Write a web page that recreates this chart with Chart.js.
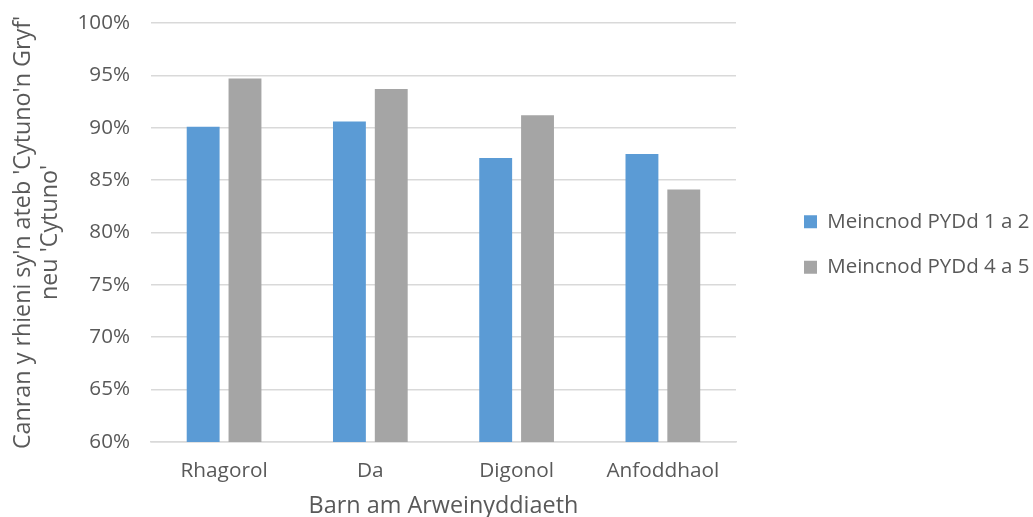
<!DOCTYPE html>
<html>
<head>
<meta charset="utf-8">
<title>Barn am Arweinyddiaeth</title>
<script src="https://cdn.jsdelivr.net/npm/chart.js@4.4.0/dist/chart.umd.min.js"></script>
<style>
  html, body { margin: 0; padding: 0; background: #fff; }
  #wrap { width: 1033px; height: 517px; }
</style>
</head>
<body>
<div id="wrap"><canvas id="myChart" width="1033" height="517"></canvas></div>
<script>
const categories = ['Rhagorol', 'Da', 'Digonol', 'Anfoddhaol'];
const seriesNames = ['Meincnod PYDd 1 a 2', 'Meincnod PYDd 4 a 5'];
const band12 = [90.1, 90.6, 87.1, 87.5];
const band45 = [94.7, 93.7, 91.2, 84.1];
const yTicks = [60, 65, 70, 75, 80, 85, 90, 95, 100];

const font = 'Open Sans';
const grey = '#595959';

// nudge the legend away from the plot and up a bit, like the original
// (right edge goes to the canvas edge so the legend clip doesn't cut text)
const legendShift = {
  id: 'legendShift',
  afterLayout(chart) {
    const lg = chart.legend;
    lg.left += 43;
    lg.right = chart.width;
    lg.top -= 27;
    lg.bottom -= 27;
  }
};

let ctx = document.getElementById('myChart').getContext('2d');
let myChart = new Chart(ctx, {
  type: 'bar',
  data: {
    labels: categories,
    datasets: [{
      label: seriesNames[0],
      data: band12,
      backgroundColor: '#5b9bd5'
    }, {
      label: seriesNames[1],
      data: band45,
      backgroundColor: '#a5a5a5'
    }]
  },
  options: {
    responsive: false,
    animation: false,
    categoryPercentage: 0.572,
    barPercentage: 0.786,
    layout: { padding: { top: 23, right: 55, left: 10, bottom: -3 } },
    plugins: {
      tooltip: { enabled: false },
      legend: {
        position: 'right',
        align: 'center',
        labels: {
          boxWidth: 13,
          boxHeight: 13,
          padding: 25,
          color: grey,
          font: { family: font, size: 20.5 }
        }
      }
    },
    scales: {
      x: {
        grid: { display: false, drawTicks: false },
        border: { color: '#d9d9d9', width: 1.5 },
        ticks: { color: grey, font: { family: font, size: 20.8 }, padding: 17 },
        title: {
          display: true,
          text: 'Barn am Arweinyddiaeth',
          color: grey,
          font: { family: font, size: 23.4 },
          padding: { top: -9, bottom: 0 }
        }
      },
      y: {
        min: 60,
        max: 100,
        afterBuildTicks: axis => { axis.ticks = yTicks.map(v => ({ value: v })); },
        // transparent tick marks just make the gap between labels and plot
        grid: { color: '#d9d9d9', lineWidth: 1.5, drawTicks: true, tickLength: 21, tickColor: 'rgba(0,0,0,0)' },
        border: { display: false },
        ticks: {
          color: grey,
          font: { family: font, size: 20.6 },
          padding: 0,
          callback: v => v + '%'
        },
        title: {
          display: true,
          text: ["Canran y rhieni sy'n ateb 'Cytuno'n Gryf'", "neu 'Cytuno'"],
          color: grey,
          font: { family: font, size: 23.3, lineHeight: 1.15 },
          padding: { top: 0, bottom: 14 }
        }
      }
    }
  },
  plugins: [legendShift]
});
</script>
</body>
</html>
